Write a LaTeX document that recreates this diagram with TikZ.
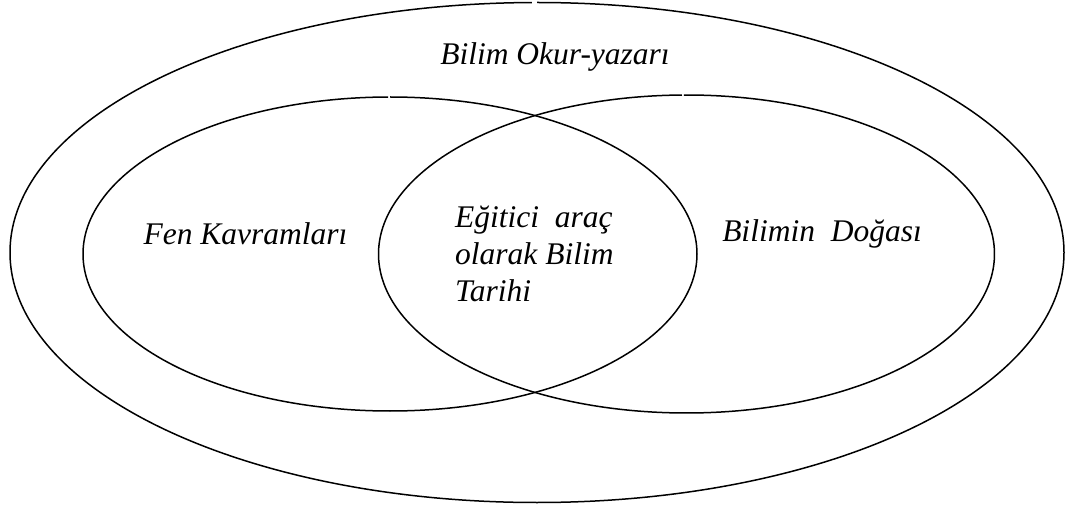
\documentclass[tikz,border=0pt]{standalone}
\usepackage{fontspec}
\setmainfont{Liberation Serif}
\begin{document}
\begin{tikzpicture}[x=1pt,y=-1pt,
  ring/.style={draw=black, line width=1.5pt},
  lbl/.style={font=\itshape\fontsize{31.5}{37.5}\selectfont, inner sep=0pt}]
\useasboundingbox (0,0) rectangle (1072,513);
% outer ellipse (small break at top, as in the reference)
\draw[ring] (537,252.5) ++(270:527 and 250)
  arc[start angle=270, end angle=629.45, x radius=527, y radius=250];
% left ellipse
\draw[ring] (390,254) ++(270:307 and 157)
  arc[start angle=270, end angle=629.63, x radius=307, y radius=157];
% right ellipse
\draw[ring] (686.5,254) ++(269.53:308 and 159)
  arc[start angle=269.53, end angle=629.16, x radius=308, y radius=159];
\node[lbl, anchor=base] (okur) at (555,65) {Bilim Okur-yazarı};
\node[lbl, anchor=base] (fen) at (245.5,245) {Fen Kavramları};
\node[lbl, anchor=base] (doga) at (822,242) {Bilimin\ \ Doğası};
\node[lbl, anchor=base west] (egit1) at (455,228) {Eğitici\ \ araç};
\node[lbl, anchor=base west] (egit2) at (455,265) {olarak Bilim};
\node[lbl, anchor=base west] (egit3) at (455,302) {Tarihi};
\end{tikzpicture}
\end{document}
